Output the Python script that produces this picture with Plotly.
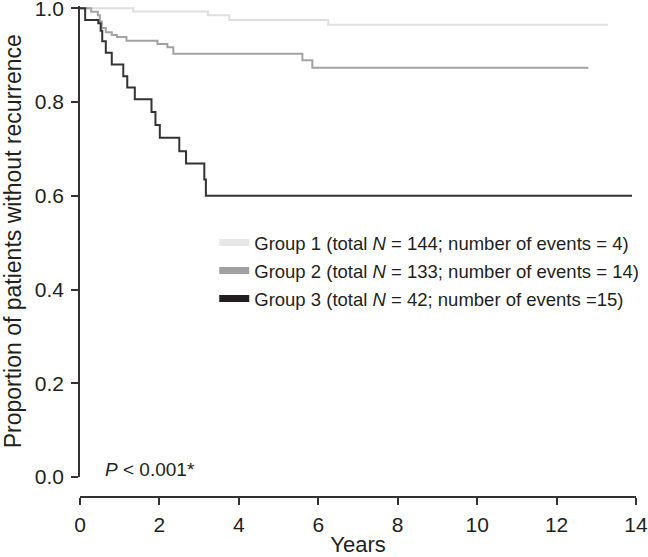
import plotly.graph_objects as go

# Kaplan-Meier step data (time in years, proportion without recurrence)
g1_t = [0, 1.34, 3.22, 3.76, 6.25, 13.3]
g1_s = [1.0, 0.993, 0.985, 0.975, 0.965, 0.965]

g2_t = [0, 0.28, 0.45, 0.50, 0.55, 0.65, 0.80, 0.93, 1.17, 1.95, 2.20, 2.35, 5.60, 5.85, 12.8]
g2_s = [1.0, 0.9925, 0.985, 0.972, 0.958, 0.949, 0.943, 0.939, 0.931, 0.924, 0.917, 0.903, 0.889, 0.873, 0.873]

g3_t = [0, 0.13, 0.46, 0.52, 0.56, 0.65, 0.80, 1.09, 1.19, 1.38, 1.80, 1.90, 2.01, 2.50, 2.67, 3.13, 3.17, 13.9]
g3_s = [1.0, 0.975, 0.968, 0.952, 0.930, 0.905, 0.880, 0.855, 0.831, 0.806, 0.779, 0.751, 0.724, 0.695, 0.669, 0.635, 0.600, 0.600]

group_names = [
    "Group 1 (total <i>N</i> = 144; number of events = 4)",
    "Group 2 (total <i>N</i> = 133; number of events = 14)",
    "Group 3 (total <i>N</i> = 42; number of events =15)",
]
line_colors = ["#dedede", "#a3a3a3", "#333333"]
legend_colors = ["#e6e6e6", "#a0a0a0", "#231f20"]

x_ticks = [0, 2, 4, 6, 8, 10, 12, 14]
y_ticks = [0.0, 0.2, 0.4, 0.6, 0.8, 1.0]
y_ticktext = ["0.0", "0.2", "0.4", "0.6", "0.8", "1.0"]

FONT = "Liberation Sans, Arial, Helvetica, sans-serif"
TXT = "#231f20"

fig = go.Figure()
for t, s, c in [(g1_t, g1_s, line_colors[0]), (g2_t, g2_s, line_colors[1]), (g3_t, g3_s, line_colors[2])]:
    fig.add_trace(go.Scatter(x=t, y=s, mode="lines", line=dict(shape="hv", color=c, width=2),
                             showlegend=False, hoverinfo="skip"))

for i, (name, c) in enumerate(zip(group_names, legend_colors)):
    fig.add_trace(go.Scatter(x=[None], y=[None], mode="lines", name=name,
                             line=dict(color=c, width=7), legendgroup=f"g{i}", showlegend=True))

fig.update_layout(
    width=648, height=557,
    margin=dict(l=80, r=11, t=4, b=60),
    paper_bgcolor="white", plot_bgcolor="white",
    font=dict(family=FONT, color=TXT, size=21),
    xaxis=dict(range=[0, 14], domain=[0, 1], anchor="free", position=0, automargin=False,
               tickvals=x_ticks, ticks="outside", ticklen=7, tickwidth=1.5, tickcolor="#333",
               ticklabeloverflow="allow", ticklabelstandoff=2,
               showline=True, linecolor="#333", linewidth=1.5, showgrid=False, zeroline=False,
               tickfont=dict(size=21, family=FONT, color=TXT),
               title=dict(text="Years", font=dict(size=22, family=FONT, color=TXT), standoff=2)),
    yaxis=dict(range=[0, 1.006], domain=[0.0406, 0.9969], automargin=False,
               tickvals=y_ticks, ticktext=y_ticktext, ticks="outside", ticklen=7, tickwidth=1.5,
               ticklabeloverflow="allow", ticklabelstandoff=3,
               tickcolor="#333", showline=True, linecolor="#333", linewidth=1.5,
               showgrid=False, zeroline=False,
               tickfont=dict(size=21, family=FONT, color=TXT),
               title=dict(text="Proportion of patients without recurrence",
                          font=dict(size=23, family=FONT, color=TXT), standoff=7)),
    legend=dict(x=0.241, y=0.554, xanchor="left", yanchor="top",
                font=dict(size=18.5, family=FONT, color=TXT),
                traceorder="grouped", tracegroupgap=1, bgcolor="rgba(0,0,0,0)"),
    annotations=[dict(text="<i>P</i> &lt; 0.001*", xref="paper", yref="paper",
                      x=0.0413, y=0.0548, xanchor="left", yanchor="middle", showarrow=False,
                      font=dict(size=19, family=FONT, color=TXT))],
)

fig.write_html("out.html", config={"displayModeBar": False},
               post_script="document.body.style.margin='0px';")
